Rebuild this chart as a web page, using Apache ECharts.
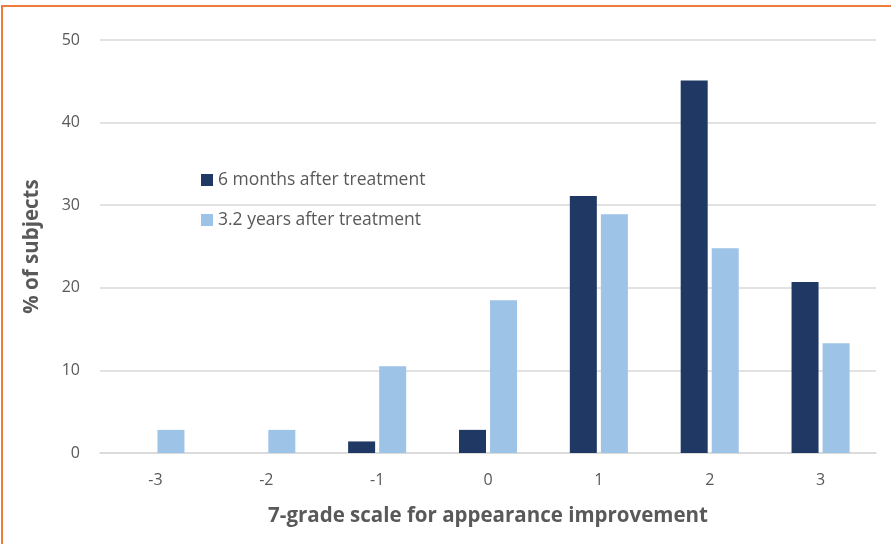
<!DOCTYPE html>
<html>
<head>
<meta charset="utf-8">
<script src="https://cdn.jsdelivr.net/npm/echarts@6/dist/echarts.min.js"></script>
<style>
  html, body { margin: 0; padding: 0; background: #fff; }
  #frame {
    position: absolute; left: 1px; top: 5px; width: 900px; height: 560px;
    border-top: 2px solid #ee7d3b; border-left: 2px solid #ee7d3b;
  }
  #chart { position: absolute; left: 0; top: 0; width: 891px; height: 544px; }
</style>
</head>
<body>
<div id="frame"></div>
<div id="chart"></div>
<script>
// Improvement grades on the 7-point scale
const categories = ['-3', '-2', '-1', '0', '1', '2', '3'];
// Share of subjects (%) per grade
const sixMonths = [0, 0, 1.4, 2.8, 31.1, 45.1, 20.7];
const threeYears = [2.8, 2.8, 10.5, 18.5, 28.9, 24.8, 13.3];
const seriesNames = ['6 months after treatment', '3.2 years after treatment'];
const yTicks = { min: 0, max: 50, interval: 10 };

const textColor = '#595959';
const fontFamily = '"Open Sans", "Noto Sans", sans-serif';

const chart = echarts.init(document.getElementById('chart'), null, { renderer: 'canvas' });
chart.setOption({
  backgroundColor: 'transparent',
  animation: false,
  textStyle: { fontFamily: fontFamily, color: textColor },
  grid: { left: 100, right: 15, top: 40, bottom: 91, containLabel: false },
  legend: {
    orient: 'vertical',
    left: 196,
    top: 164,
    itemWidth: 12,
    itemHeight: 12,
    itemGap: 18,
    icon: 'rect',
    textStyle: { fontSize: 17.5, color: textColor, fontFamily: fontFamily, lineHeight: 22 },
    data: seriesNames
  },
  xAxis: {
    type: 'category',
    data: categories,
    name: '7-grade scale for appearance improvement',
    nameLocation: 'middle',
    nameGap: 53,
    nameTextStyle: { fontSize: 20.5, fontWeight: 'bold', color: textColor, fontFamily: fontFamily },
    axisLine: { show: true, lineStyle: { color: '#d9d9d9', width: 1.5 } },
    axisTick: { show: false },
    axisLabel: { fontSize: 16, color: textColor, margin: 19 }
  },
  yAxis: {
    type: 'value',
    min: yTicks.min,
    max: yTicks.max,
    interval: yTicks.interval,
    name: '% of subjects',
    nameLocation: 'middle',
    nameGap: 57,
    nameRotate: 90,
    nameTextStyle: { fontSize: 20.5, fontWeight: 'bold', color: textColor, fontFamily: fontFamily },
    axisLine: { show: false },
    axisTick: { show: false },
    axisLabel: { fontSize: 16, color: textColor, margin: 20 },
    splitLine: { lineStyle: { color: '#d9d9d9', width: 1.5 } }
  },
  series: [
    {
      name: seriesNames[0],
      type: 'bar',
      data: sixMonths,
      barWidth: 27,
      barGap: '15%',
      itemStyle: { color: '#1f3864' }
    },
    {
      name: seriesNames[1],
      type: 'bar',
      data: threeYears,
      barWidth: 27,
      barGap: '15%',
      itemStyle: { color: '#9dc3e6' }
    }
  ]
});
</script>
</body>
</html>
